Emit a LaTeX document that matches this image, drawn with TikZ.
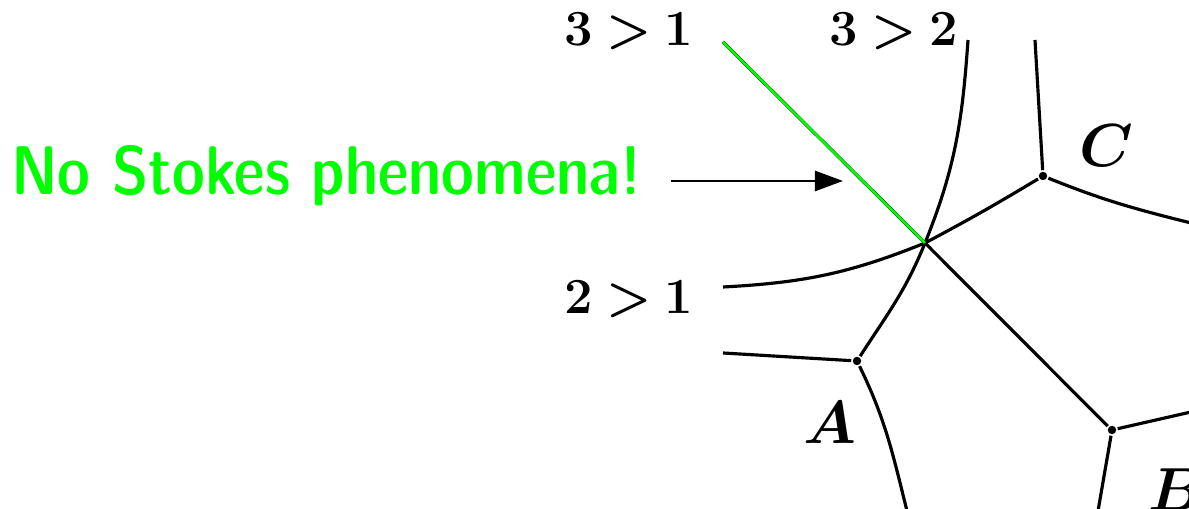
\documentclass[tikz,border=0pt]{standalone}
\usepackage{amsmath}
\usepackage{tikz}
\usetikzlibrary{
  arrows.meta,
  positioning
}
\tikzset{>={Triangle[length=8pt,width=5.7pt]}}
\tikzset{
  wall/.style={line width=0.9pt},
  branch/.style={circle,fill,inner sep=0pt,minimum size=2.4pt},
  order/.style={font=\Large\boldmath},
  pt/.style={font=\LARGE\boldmath}
}
\font\demicond=cmssdc10 at 19.6pt

\begin{document}
\begin{tikzpicture}[wall]
					\useasboundingbox (0,0) rectangle (11.89,5.09);
					\coordinate (O) at (9.25,2.66);
					\node[branch] (A) at (8.57,1.48) {};
					\node[branch] (B) at (11.12,0.79) {};
					\node[branch] (C) at (10.43,3.33) {};
					\coordinate (t31) at (7.23,4.67);
					\coordinate (t32) at (9.68,4.69);
					\coordinate (t21) at (7.23,2.22);
					\coordinate (tA) at (7.23,1.56);
					\coordinate (bA) at (9.07,-0.02);
					\coordinate (bB) at (10.98,-0.02);
					\coordinate (rB) at (11.91,0.97);
					\coordinate (tC) at (10.35,4.69);
					\coordinate (rC) at (11.91,2.86);
					% walls through the joint
					\draw (t32) to[out=266,in=68] (O) to[out=248,in=57] (A);
					\draw (t21) to[out=3,in=202] (O) to[out=28,in=211] (C);
					\draw (O) -- (B);
					\draw (t31) -- (O);
					\draw[green,line width=0.75pt] (t31) -- (O);
					% legs of the branch points
					\draw (tA) -- (A);
					\draw (A) to[out=-64,in=104] (bA);
					\draw (B) -- (rB);
					\draw (B) -- (bB);
					\draw (C) -- (tC);
					\draw (C) to[out=-22,in=166] (rC);
					% labels
					\node[order] (l31) at (6.29,4.78) {$3\mskip-1mu>\mskip-1mu1$};
					\node[order] (l32) at (8.94,4.78) {$3\mskip-1mu>\mskip-1mu2$};
					\node[order] (l21) at (6.29,2.10) {$2\mskip-1mu>\mskip-1mu1$};
					\node[pt] (lA) at (8.30,0.86) {$A$};
					\node[pt] (lB) at (11.76,0.19) {$B$};
					\node[pt] (lC) at (11.06,3.63) {$C$};
					\node[text=green,font=\demicond,anchor=base west] (stokes) at (-0.02,3.14) {No Stokes phenomena!};
					\coordinate (tail) at (6.71,3.28);
					\coordinate (tip) at (8.43,3.28);
					\draw[->,line width=0.8pt] (tail) -- (tip);
				\end{tikzpicture}
\end{document}
